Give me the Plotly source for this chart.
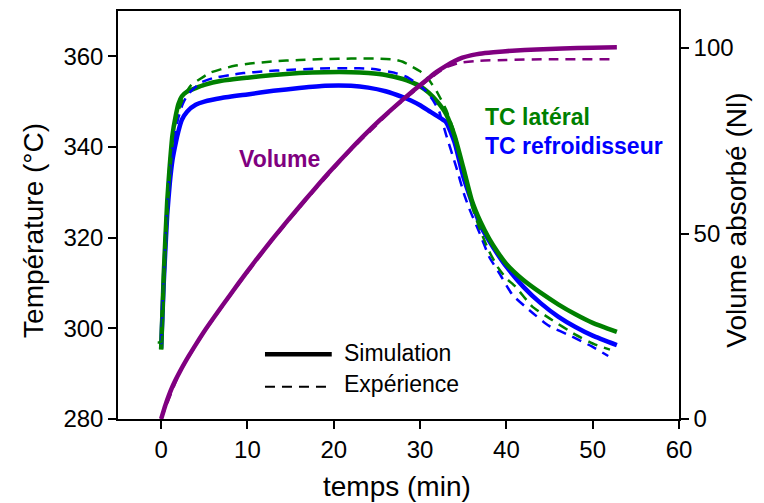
import plotly.graph_objects as go

# simulation, TC latéral / TC refroidisseur
t_sim = [0, 0.3, 0.7, 1.0, 1.3, 1.7, 2.0, 2.4, 3, 4, 5, 7, 10, 13, 16, 19, 22, 24, 26, 28,
         29, 30, 31, 32, 33, 34, 35, 36, 37, 38, 39, 40, 42, 44, 46, 48, 50, 52.8]
lat_sim = [295.3, 312, 328, 336, 342.5, 347, 349.5, 351.2, 352.2, 353.0, 353.7, 354.6, 355.3,
           355.9, 356.3, 356.5, 356.5, 356.3, 355.9, 355.0, 354.3, 353.4, 352.0, 350.0, 347.3,
           342.5, 335.5, 328.2, 323.5, 319.8, 316.8, 314.2, 310.6, 307.8, 305.3, 303.1, 301.2, 299.2]
ref_sim = [295.5, 310, 325, 332, 337, 341, 343.5, 346, 347.8, 349.3, 350.0, 350.8, 351.6,
           352.4, 353.0, 353.5, 353.5, 353.1, 352.3, 351.0, 350.2, 349.2, 348.0, 346.8, 345.5,
           341.0, 333.5, 327.8, 322.6, 319.3, 316.3, 313.6, 309.1, 305.5, 302.6, 300.3, 298.4, 296.3]

# expérience
t_lat_exp = [-0.4, 0, 0.3, 0.7, 1.0, 1.5, 2.0, 2.5, 3, 3.5, 4.5, 5.7, 7, 8.5, 10.3, 13, 16, 19,
             22, 25, 27, 28, 29, 30, 31, 32, 33, 34, 35, 36, 37, 38, 39, 40, 41, 43, 45, 48, 50.3, 52]
lat_exp = [296.9, 297.0, 313, 329, 337, 344, 348, 350.5, 352.4, 353.7, 355.0, 356.4, 357.2, 357.9,
           358.4, 358.9, 359.2, 359.4, 359.5, 359.5, 359.3, 358.8, 357.8, 356.7, 354.9, 352.0,
           348.3, 343.0, 335.0, 327.0, 321.5, 317.0, 313.5, 311.0, 309.3, 304.8, 302.2, 298.6, 296.4, 295.3]
t_ref_exp = [0, 0.3, 0.7, 1.0, 1.5, 2.0, 2.5, 3, 3.5, 4.6, 6, 8, 9.5, 12, 14.6, 18, 21.9, 24,
             25.3, 27, 28.4, 29.5, 30.7, 31.5, 32.2, 33, 34.2, 35.1, 35.7, 36.9, 38, 39.2, 40.7,
             42.6, 44.9, 47.6, 49.9, 51.8]
ref_exp = [296.5, 312, 327, 335, 342, 346.5, 349.5, 351.3, 352.4, 354.2, 355.2, 355.9, 356.3,
           356.7, 357.0, 357.3, 357.4, 357.3, 357.0, 356.4, 355.5, 354.2, 352.3, 350.3, 347.9,
           342.8, 335.5, 329.6, 326.4, 321.0, 315.8, 312.1, 307.4, 304.1, 300.6, 298.2, 296.0, 293.9]

# volume absorbé (Nl)
t_vol = [0, 0.5, 1.3, 2.2, 3.2, 4.1, 5.1, 7.1, 9.0, 10.9, 12.8, 14.7, 16.7, 18.4, 19.5, 21.9,
         23.4, 25.3, 27.2, 29.2, 31.1, 32.0, 33.0, 34.0, 34.9, 36.0, 36.9, 38.5, 40.7, 43.5,
         46.5, 50.0, 52.8]
vol_sim = [0, 3.8, 8.7, 12.9, 17.0, 20.4, 24.0, 30.6, 36.7, 42.6, 48.2, 53.6, 59.1, 63.7, 66.6,
           72.6, 76.2, 80.5, 84.5, 88.5, 92.1, 93.7, 95.2, 96.5, 97.4, 98.1, 98.5, 98.9, 99.3,
           99.6, 99.9, 100.1, 100.2]
t_vol_exp = [0, 2.2, 5.1, 9, 12.8, 16.7, 21.9, 27.2, 31.1, 33, 34.5, 36.9, 40, 45, 52.2]
vol_exp = [0, 12.7, 23.8, 36.4, 47.9, 58.8, 72.3, 84.2, 91.7, 94.8, 96.0, 96.6, 96.8, 97.0, 97.0]

GREEN = '#008000'
BLUE = '#0000ff'
PURPLE = '#800080'
FONT = 'Liberation Sans, Arial, sans-serif'
DASH = '10px,7px'


def line(color, width, dash='solid'):
    return dict(color=color, width=width, dash=dash, shape='spline', smoothing=0.5)


fig = go.Figure()
fig.add_trace(go.Scatter(x=t_sim, y=ref_sim, mode='lines', line=line(BLUE, 4.5)))
fig.add_trace(go.Scatter(x=t_sim, y=lat_sim, mode='lines', line=line(GREEN, 4.5)))
fig.add_trace(go.Scatter(x=t_ref_exp, y=ref_exp, mode='lines', line=line(BLUE, 2.5, DASH)))
fig.add_trace(go.Scatter(x=t_lat_exp, y=lat_exp, mode='lines', line=line(GREEN, 2.5, DASH)))
fig.add_trace(go.Scatter(x=t_vol_exp, y=vol_exp, mode='lines', yaxis='y2',
                         line=line(PURPLE, 2.5, DASH)))
fig.add_trace(go.Scatter(x=t_vol, y=vol_sim, mode='lines', yaxis='y2', line=line(PURPLE, 4.5)))

axis_common = dict(showline=True, linecolor='black', linewidth=1.5, ticks='outside',
                   ticklen=8, tickwidth=1.5, tickcolor='black', showgrid=False, zeroline=False,
                   tickfont=dict(family=FONT, size=24, color='black'))

# the page body has an 8px margin, so the figure is 8px smaller and shifted
fig.update_layout(
    width=756, height=495,
    margin=dict(l=110, r=85, t=1, b=84),
    paper_bgcolor='white', plot_bgcolor='white',
    showlegend=False,
    font=dict(family=FONT, color='black'),
    xaxis=dict(range=[-5, 60], tickvals=[0, 10, 20, 30, 40, 50, 60], mirror=True, **axis_common),
    yaxis=dict(range=[280, 370], tickvals=[280, 300, 320, 340, 360], **axis_common),
    yaxis2=dict(range=[0, 110], tickvals=[0, 50, 100], overlaying='y', side='right',
                **axis_common),
)

# légende (traits)
fig.add_shape(type='line', xref='paper', yref='paper', x0=0.262, x1=0.381, y0=0.1585, y1=0.1585,
              line=dict(color='black', width=4.5))
fig.add_shape(type='line', xref='paper', yref='paper', x0=0.262, x1=0.381, y0=0.079, y1=0.079,
              line=dict(color='black', width=2, dash=DASH))

notes = [
    ('Simulation', 0.399, 0.161, 'black', False),
    ('Expérience', 0.399, 0.087, 'black', False),
    ('TC latéral', 0.651, 0.739, GREEN, True),
    ('TC refroidisseur', 0.651, 0.670, BLUE, True),
]
for txt, x, y, col, bold in notes:
    fig.add_annotation(xref='paper', yref='paper', x=x, y=y, xanchor='left', yanchor='middle',
                       text=f'<b>{txt}</b>' if bold else txt, showarrow=False,
                       font=dict(family=FONT, size=23, color=col))
fig.add_annotation(xref='paper', yref='paper', x=0.287, y=0.638, xanchor='center', yanchor='middle',
                   text='<b>Volume</b>', showarrow=False, font=dict(family=FONT, size=23, color=PURPLE))

# titres des axes
fig.add_annotation(xref='paper', yref='paper', x=0.498, y=-0.165, xanchor='center', yanchor='middle',
                   text='temps (min)', showarrow=False, font=dict(family=FONT, size=28))
fig.add_annotation(xref='paper', yref='paper', x=-0.1497, y=0.461, xanchor='center', yanchor='middle',
                   text='Température (°C)', textangle=-90, showarrow=False,
                   font=dict(family=FONT, size=28))
fig.add_annotation(xref='paper', yref='paper', x=1.103, y=0.488, xanchor='center', yanchor='middle',
                   text='Volume absorbé (Nl)', textangle=-90, showarrow=False,
                   font=dict(family=FONT, size=28))

fig.write_html("out.html")
